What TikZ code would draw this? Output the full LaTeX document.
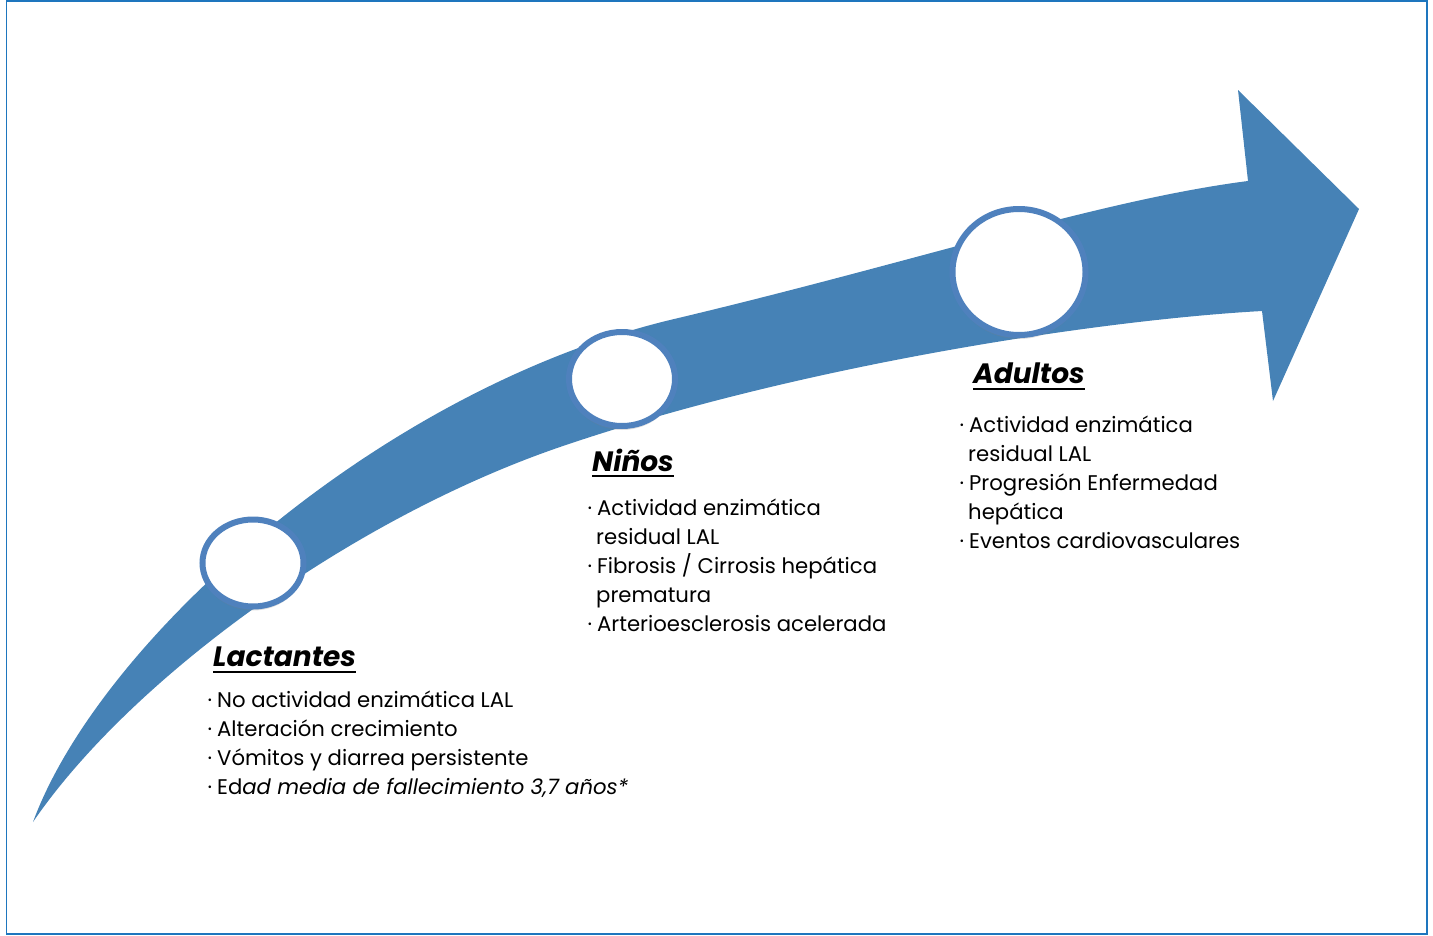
\documentclass[tikz,border=0pt]{standalone}
\usepackage{fontspec}
\setmainfont{Poppins}
\usetikzlibrary{shadows,shapes.geometric}
\definecolor{band}{RGB}{70,130,182}
\definecolor{ring}{RGB}{79,129,189}
\definecolor{frame}{RGB}{30,118,190}
\newcommand{\bul}{\llap{·\hspace{5pt}}}
\begin{document}
\begin{tikzpicture}[x=1pt,y=-1pt,
  ringnode/.style={ellipse,draw=ring,line width=6pt,fill=white,
    drop shadow={shadow xshift=0pt,shadow yshift=-4pt,opacity=0.25}},
  itemtxt/.style={anchor=base west,inner sep=0pt,font=\fontsize{21.2}{29}\selectfont},
  headtxt/.style={anchor=base west,inner sep=0pt,font=\fontsize{28}{32}\selectfont\bfseries\itshape},
  uline/.style={line width=2.2pt}]
\useasboundingbox (0,0) rectangle (1433,935);
\draw[frame,line width=1.5pt] (6.5,1) rectangle (1427,934);
% arrow band
\fill[band] (33,822) .. controls (100,640) and (380,390) .. (670,320)
  .. controls (915,262) and (1100,200) .. (1248,181)
  -- (1238,90) -- (1359,209) -- (1273,401) -- (1262,311)
  .. controls (1100,320) and (800,365) .. (560,447)
  .. controls (350,519) and (130,680) .. (33,822) -- cycle;
% circles
\node[ringnode,minimum width=101pt,minimum height=87pt] (c1) at (253,563) {};
\node[ringnode,minimum width=106pt,minimum height=94pt] (c2) at (622,379) {};
\node[ringnode,minimum width=133pt,minimum height=126pt] (c3) at (1019,272) {};
% headings
\node[headtxt] (hL) at (213,666) {Lactantes};
\node[headtxt] (hN) at (592,471) {Niños};
\node[headtxt] (hA) at (973,383) {Adultos};
\draw[uline] ([yshift=-6pt]hL.base west) -- ([yshift=-6pt]hL.base east);
\draw[uline] ([yshift=-5pt]hN.base west) -- ([yshift=-5pt]hN.base east);
\draw[uline] ([yshift=-6pt]hA.base west) -- ([yshift=-6pt]hA.base east);
% Lactantes
\node[itemtxt] (l1) at (217,707) {\bul No actividad enzimática LAL};
\node[itemtxt] (l2) at (217,736) {\bul Alteración crecimiento};
\node[itemtxt] (l3) at (217,765) {\bul Vómitos y diarrea persistente};
\node[itemtxt] (l4) at (217,794) {\bul Ed\textit{ad media de fallecimiento 3,7 años*}};
% Niños
\node[itemtxt] (n1) at (597,515) {\bul Actividad enzimática};
\node[itemtxt] (n2) at (596,544) {residual LAL};
\node[itemtxt] (n3) at (597,573) {\bul Fibrosis / Cirrosis hepática};
\node[itemtxt] (n4) at (596,602) {prematura};
\node[itemtxt] (n5) at (597,631) {\bul Arterioesclerosis acelerada};
% Adultos
\node[itemtxt] (a1) at (969,432) {\bul Actividad enzimática};
\node[itemtxt] (a2) at (968,461) {residual LAL};
\node[itemtxt] (a3) at (969,490) {\bul Progresión Enfermedad};
\node[itemtxt] (a4) at (968,519) {hepática};
\node[itemtxt] (a5) at (969,548) {\bul Eventos cardiovasculares};
\end{tikzpicture}
\end{document}
